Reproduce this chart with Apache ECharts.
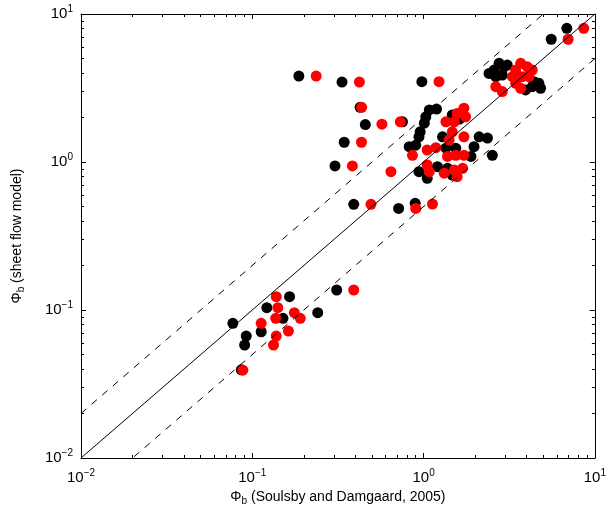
<!DOCTYPE html>
<html>
<head>
<meta charset="utf-8">
<script src="https://cdn.jsdelivr.net/npm/echarts@6/dist/echarts.min.js"></script>
<style>html,body{margin:0;padding:0;background:#fff}#c{width:609px;height:515px}</style>
</head>
<body>
<div id="c"></div>
<script>
// Black series (x, y)
const blackX = [0.187,0.334,0.426,0.457,0.344,0.304,0.391,6.86,5.56,2.76,2.95,2.58,2.41,3.08,2.64,2.88,3.94,4.31,4.71,4.82,4.41,0.977,1.08,1.19,1.03,1.01,0.955,0.94,0.753,1.47,1.29,2.11,2.36,1.97,2.52,0.824,0.90,1.35,1.89,1.54,0.94,1.205,1.38,1.47,1.05,1.62,0.715,0.893,0.077,0.1216,0.165,0.151,0.241,0.311,0.1127,0.0922,0.0902,0.0863];
const blackY = [3.81,3.47,2.34,1.79,1.36,0.94,0.518,8.0,6.75,4.64,4.40,4.18,3.97,4.52,3.77,3.87,3.07,3.23,3.40,3.15,3.49,3.49,2.25,2.28,2.02,1.83,1.60,1.48,1.87,2.08,1.48,1.48,1.45,1.27,1.11,1.27,1.30,1.24,1.09,1.24,0.86,0.93,0.906,0.817,0.776,1.95,0.486,0.526,0.0813,0.1037,0.123,0.0879,0.0959,0.1365,0.0713,0.0667,0.058,0.0394];
// Red series (x, y)
const redX = [0.236,0.422,0.435,0.434,0.384,0.493,8.61,6.98,3.69,4.03,4.31,3.45,3.30,3.77,4.12,3.45,2.64,2.88,3.69,1.23,0.731,0.571,1.72,1.57,1.76,1.51,1.35,1.47,1.72,1.41,0.861,1.05,1.18,1.38,1.54,1.72,1.05,1.08,1.32,1.51,1.69,1.57,0.645,0.90,1.127,0.138,0.141,0.137,0.176,0.1906,0.1127,0.138,0.133,0.1625,0.391,0.0881];
const redY = [3.81,3.47,2.34,1.36,0.94,0.518,8.0,6.75,4.64,4.40,4.18,4.18,3.77,3.77,3.77,3.40,3.23,2.99,3.15,3.49,1.87,1.80,2.31,2.13,2.02,1.87,1.87,1.60,1.48,1.41,1.11,1.205,1.25,1.09,1.11,1.11,0.955,0.86,0.84,0.883,0.906,0.796,0.86,0.486,0.52,0.123,0.1037,0.0879,0.0959,0.0879,0.0813,0.0667,0.058,0.0721,0.1365,0.0392];
// Reference lines: 1:1 and factor-of-2 bounds
const lineX = [0.01, 10];
const oneToOne = [0.01, 10];
const upperLine = [0.02, 20];
const lowerLine = [0.005, 5];
// Axis range (decades) and minor tick positions
const axisMin = 0.01, axisMax = 10;
const decades = [0.01, 0.1, 1];
const minorMult = [2, 3, 4, 5, 6, 7, 8, 9];
const minorLog = [];
decades.forEach(d => minorMult.forEach(k => minorLog.push(Math.log10(d * k))));

const FONT = 'Liberation Sans, Arial, Helvetica, sans-serif';
const zip = (a, b) => a.map((v, i) => [v, b[i]]);

function expLabel(v) {
  const e = Math.round(Math.log10(v));
  return '{b|10}{s|' + (e < 0 ? '\u2212' + (-e) : e) + '}';
}
const labelRich = {
  b: { fontSize: 15, fontFamily: FONT, color: '#000' },
  s: { fontSize: 10, fontFamily: FONT, color: '#000', padding: [0, 0, 10, 0] }
};
const nameRich = {
  a: { fontSize: 14, fontFamily: FONT, color: '#000' },
  sub: { fontSize: 10, fontFamily: FONT, color: '#000', padding: [8, 0, 0, 0] }
};
const blackLine = { color: '#000', width: 1 };
const majorTick = { show: true, inside: true, length: 5, lineStyle: blackLine };

function logAxis(opts) {
  return Object.assign({
    type: 'log', logBase: 10, min: axisMin, max: axisMax,
    splitLine: { show: false },
    axisLine: { show: true, onZero: false, lineStyle: blackLine },
    axisTick: majorTick,
    axisLabel: { show: false },
    silent: true
  }, opts);
}
// minor ticks: value axis in log10 space, only used for tick marks
function minorAxis(position) {
  return {
    type: 'value', position: position, min: Math.log10(axisMin), max: Math.log10(axisMax),
    splitLine: { show: false },
    axisLine: { show: false, onZero: false },
    axisTick: { show: true, inside: true, length: 3, customValues: minorLog, lineStyle: blackLine },
    axisLabel: { show: false, customValues: minorLog },
    silent: true
  };
}

const option = {
  animation: false,
  backgroundColor: '#fff',
  grid: { left: 81, right: 13, top: 14, bottom: 57, containLabel: false },
  xAxis: [
    logAxis({
      position: 'bottom',
      axisLabel: { show: true, margin: 10, formatter: expLabel, rich: labelRich },
      name: '{a|\u03A6}{sub|b}{a| (Soulsby and Damgaard, 2005)}',
      nameLocation: 'middle', nameGap: 29,
      nameTextStyle: { rich: nameRich }
    }),
    logAxis({ position: 'top' }),
    minorAxis('bottom'),
    minorAxis('top')
  ],
  yAxis: [
    logAxis({
      position: 'left',
      axisLabel: { show: true, margin: 8, formatter: expLabel, rich: labelRich },
      name: '{a|\u03A6}{sub|b}{a| (sheet flow model)}',
      nameLocation: 'middle', nameGap: 55, nameRotate: 90,
      nameTextStyle: { rich: nameRich }
    }),
    logAxis({ position: 'right' }),
    minorAxis('left'),
    minorAxis('right')
  ],
  series: [
    { type: 'scatter', name: 'black', data: zip(blackX, blackY), symbol: 'circle', symbolSize: 11,
      itemStyle: { color: '#000', opacity: 1 }, xAxisIndex: 0, yAxisIndex: 0, z: 2 },
    { type: 'scatter', name: 'red', data: zip(redX, redY), symbol: 'circle', symbolSize: 11,
      itemStyle: { color: '#ff0000', opacity: 1 }, xAxisIndex: 0, yAxisIndex: 0, z: 3 },
    { type: 'line', data: zip(lineX, oneToOne), showSymbol: false, symbol: 'none', clip: true,
      lineStyle: { color: '#000', width: 1 }, z: 4 },
    { type: 'line', data: zip(lineX, upperLine), showSymbol: false, symbol: 'none', clip: true,
      lineStyle: { color: '#000', width: 1, type: [7, 7] }, z: 4 },
    { type: 'line', data: zip(lineX, lowerLine), showSymbol: false, symbol: 'none', clip: true,
      lineStyle: { color: '#000', width: 1, type: [7, 7] }, z: 4 }
  ]
};
const chart = echarts.init(document.getElementById('c'), null, { renderer: 'canvas' });
chart.setOption(option);
</script>
</body>
</html>
